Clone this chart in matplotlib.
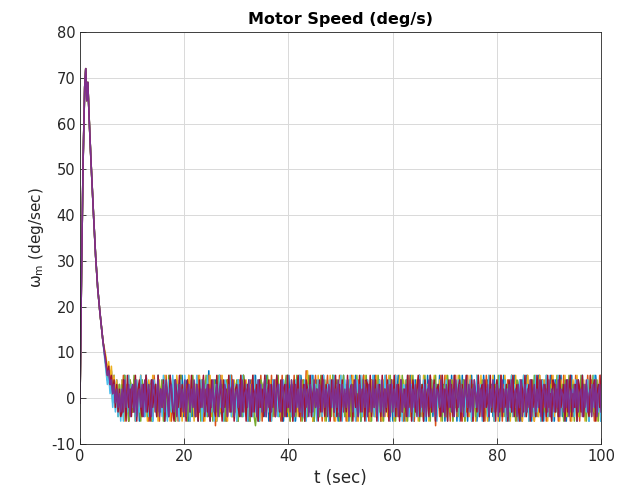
import numpy as np
import matplotlib
matplotlib.use("Agg")
import matplotlib.pyplot as plt

plt.rcParams['axes.unicode_minus'] = False

# shared start-up transient
t_rise = [0, 0.3, 0.6, 0.9, 1.1, 1.3, 1.5, 1.8, 2.1, 2.6, 3.0, 3.4, 3.8, 4.4]
speed_rise = [-1, 28, 52, 68, 72, 65, 69, 60, 52, 40, 31, 24, 19, 12.5]

# rest of each run, t = 5..100 s, about every 0.25 s (estimated from the band)
run_blue = [8, 5, 7, 3, 6, 1, 5, -1, 4, -2, 3, -4,
    4, -2, 5, -1, 2, -5, 3, 1, -3, 4, -4, 0, 3, -5, 1, 4, -2, -4, 5, 2,
    -3, 1, 4, -5, 2, 3, -4, 5, -1, -3, 4, 2, -5, 3, 0, -4, 5, -2, 1, 4,
    -5, 2, -1, 4, -3, 5, -4, -2, 3, 4, -5, 1, 2, -4, 3, -3, 2, -5, 4, -1,
    1, 4, -3, 2, -4, 6, -5, 3, 0, -2, 4, -5, 1, 5, -3, -4, 2, 1, -5, 4,
    2, -3, 5, -4, 0, 3, -5, 4, -1, 2, -4, 5, 3, -3, 1, -5, 4, 2, -4, 3,
    5, -2, -5, 4, 1, -3, 3, -4, 5, 2, -5, 3, -1, 4, -3, 0, 5, -4, 2, -2,
    4, -5, 3, 1, -4, 5, -2, 2, -3, 4, -5, 0, 3, -4, 5, 2, -3, -5, 4, 1,
    -2, 3, -4, 5, -5, 2, 4, -3, 1, 3, -4, 5, -2, -3, 4, -5, 2, 0, 5, -4,
    3, -1, -5, 4, 2, -3, 5, -4, 1, 3, -5, 4, -2, 2, -4, 5, -3, 0, 4, -5,
    2, 5, -3, -4, 3, 1, -5, 4, -2, 5, -4, 2, -3, 3, -5, 4, 1, -2, 5, -3,
    -4, 3, 2, -5, 4, -2, 1, 5, -4, 3, -3, 2, -5, 4, 0, -4, 5, -2, 3, -5,
    4, 1, -3, 5, -4, 2, -2, 3, -5, 5, -3, 1, 4, -4, 2, -5, 3, -2, 5, -4,
    1, 3, -5, 4, -2, 2, -4, 5, -3, 1, 4, -5, 3, 2, -4, 5, -2, -3, 4, -5,
    3, -2, 5, -4, 1, 2, -5, 4, -3, 3, -4, 5, 0, -2, 4, -5, 2, 3, -4, 5,
    -3, 1, 4, -5, 2, -2, 5, -4, 3, 1, -5, 4, -3, 2, 5, -4, 1, 3, -2, -5,
    4, 2, -4, 5, -3, 1, 3, -5, 4, -2, 2, -4, 5, -3, 1, 4, -5, 3, -2, 2,
    -4, 5, -2, 3, -5, 4, 1, -3, 2, 5, -4, 3, -2, -5, 4, 1, -3, 5, -4, 2,
    3, -5, 4, -2, 1, 5, -4, 2, -3, 3, -5, 4, 2, -2, -4, 5, 1, -3, 4, -5]
run_orange = [7, 4, 6, 2, 5, 0, 4, -2, 3, -3, 2, -4,
    -2, 5, -4, 1, 3, -5, 4, 2, -3, 4, -5, 3, -2, 1, 5, -4, 2, -3, 4, -2,
    -5, 3, 2, -4, 5, 1, -3, 4, -5, 2, 3, -2, -4, 5, -3, 1, 4, -5, 3, 2,
    -3, 4, -5, 1, 5, -2, 2, -4, 3, -3, 5, -5, 4, 1, -2, 3, -4, 5, -3, 2,
    4, -5, 1, 3, -2, 5, -4, 2, -3, 4, -6, 3, 1, -2, 5, -4, 3, 2, -5, 4,
    -2, 1, 5, -4, 3, -3, 2, -5, 4, 1, -3, 5, -2, -4, 3, 2, -5, 4, -3, 5,
    1, -4, 3, -2, 5, -5, 2, 4, -3, 1, 3, -5, 5, -2, -4, 4, 2, -3, 1, -5,
    5, -3, 2, -4, 4, 1, -5, 3, -2, 5, -4, 2, -3, 3, -5, 4, 1, -2, 6, -4,
    2, -3, 4, -5, 1, 5, -2, 3, -4, 2, -5, 4, -3, 1, 5, -4, 3, -2, 2, -5,
    4, 1, -3, 5, -4, 2, -2, 3, -5, 4, 2, -4, 5, -3, 1, 3, -5, 4, -2, 2,
    -4, 5, -3, 1, 4, -5, 3, 2, -2, -4, 5, 1, -3, 4, -5, 2, 3, -4, 5, -2,
    1, -5, 4, 2, -3, 5, -4, 3, -2, 1, 4, -5, 2, 3, -4, 5, -3, -2, 4, -5,
    3, 1, -4, 5, -2, 2, -5, 4, -3, 3, -4, 5, 1, -2, 4, -6, 2, 3, -4, 5,
    -3, -2, 5, -4, 2, 1, -5, 4, 3, -3, 5, -4, 2, -2, 3, -5, 4, 1, -3, 5,
    -4, 2, 3, -5, 4, -2, 1, 5, -4, 3, -3, 2, -5, 5, 1, -4, 3, -2, 4, -5,
    2, 4, -3, 1, 5, -5, 3, -2, -4, 4, 2, -3, 5, -4, 1, 3, -5, 2, 4, -2,
    -5, 3, 1, -3, 5, -4, 2, 4, -2, -5, 3, 1, -4, 5, -3, 2, -2, 4, -5, 3,
    1, -4, 5, -2, 2, -3, 4, -5, 3, 1, -2, 5, -4, 2, -3, 4, -5, 1, 3, -4,
    5, -2, 2, -5, 4, -3, 1, 3, -4, 5, -2, -3, 4, 2, -5, 3, 1, -4, 5, -3]
run_yellow = [9, 6, 8, 4, 7, 2, 5, 0, 4, -1, 3, -3,
    4, -2, -5, 3, 1, 5, -4, 2, -3, 3, -5, 4, 1, -2, 5, -4, 3, -3, 2, -5,
    4, 2, -4, 5, -3, 1, 3, -5, 4, -2, 2, -4, 5, -3, 1, 4, -5, 3, 2, -2,
    -4, 5, 1, -3, 4, -5, 2, 3, -2, -4, 5, -3, 1, 4, -5, 3, 2, -4, 5, 1,
    -2, 3, -5, 4, 2, -3, 5, -4, 1, 3, -2, -5, 4, 2, -3, 5, -4, 3, 1, -5,
    5, -3, 2, -4, 4, 1, -5, 3, -2, 5, -4, 2, -3, 4, -5, 1, 3, -2, 5, -4,
    2, -2, 4, -5, 3, 1, -3, 5, -4, 2, -2, 4, -5, 3, 1, -4, 5, -2, 3, -3,
    -5, 4, 2, -3, 5, -4, 1, 3, -5, 4, -2, 2, -4, 5, -3, 1, 4, -5, 2, 6,
    -3, 1, 4, -5, 2, 3, -4, 5, -2, 1, -3, 4, -5, 3, 2, -4, 5, -2, 1, 3,
    -5, 4, -3, 2, 5, -4, 1, -2, 3, -5, 4, 2, -3, 5, -4, 1, 3, -5, 4, -2,
    2, -4, 5, -3, 1, 3, -5, 4, 2, -2, -4, 5, -3, 3, 1, -5, 4, -2, 2, -4,
    5, -3, 1, 4, -5, 2, 3, -4, 5, -2, -3, 4, 1, -5, 3, 2, -4, 5, -2, 1,
    -3, 4, -5, 3, 2, -4, 5, 1, -2, 3, -5, 4, -3, 2, 5, -4, 1, -2, 4, -5,
    3, 1, -4, 5, -2, 2, -3, 4, -5, 3, 1, -2, 5, -4, 2, -3, 4, -5, 3, 2,
    -4, 5, -2, 1, 3, -5, 4, 2, -3, 5, -4, 1, 3, -2, -5, 4, 2, -3, 5, -4,
    1, 3, -5, 4, -2, 2, -4, 5, -3, 1, 4, -5, 2, 3, -4, 5, -2, -3, 4, 1,
    -5, 3, 2, -4, 5, -2, 1, 4, -3, -5, 3, 2, -4, 5, 1, -3, 4, -2, 2, -5,
    4, -3, 1, 5, -4, 2, -2, 3, -5, 4, 1, -3, 5, -4, 2, 3, -2, -5, 4, 1,
    -2, 5, -4, 3, -3, 1, 4, -5, 2, 3, -4, 5, -2, 1, -3, 4, -5, 2, 3, -4]
run_green = [7, 4, 6, 2, 4, -1, 3, -2, 2, -4, 3, -4,
    3, -4, 5, -2, 1, -5, 4, 2, -3, 5, -4, 1, 3, -2, -5, 4, 2, -3, 5, -4,
    1, 3, -5, 4, -2, 2, -4, 5, -3, 1, 4, -5, 3, 2, -4, 5, -2, -3, 4, 1,
    -5, 3, 2, -4, 5, -2, 1, 4, -3, -5, 3, 2, -4, 5, 1, -3, 4, -2, 2, -5,
    4, -3, 1, 5, -4, 2, -2, 3, -5, 4, 1, -3, 5, -4, 2, 3, -2, -5, 4, 1,
    -2, 5, -4, 3, -3, 1, 4, -5, 2, 3, -4, 5, -2, 1, -3, 4, -5, 2, 3, -4,
    -6, -2, 1, -5, 4, 3, -3, 2, -4, 5, 1, -2, 3, -4, 4, -3, 2, 5, -4, 1,
    3, -4, 2, 5, -3, 1, -5, 4, -2, 3, -4, 5, 2, -3, 1, -5, 4, 3, -2, -4,
    5, 1, -3, 4, -5, 2, 3, -2, -4, 5, -3, 1, 4, -5, 2, -2, 3, -4, 5, 2,
    -3, 4, 1, -5, 3, -2, 5, -4, 2, 1, -3, 4, -5, 3, 2, -4, 5, -2, 1, -5,
    4, 2, -3, 5, -4, 1, 3, -5, 4, -2, 2, -4, 5, -3, 3, 1, -5, 4, -2, 2,
    -4, 5, -3, 1, 4, -5, 2, 3, -2, -4, 5, 1, -3, 4, -5, 3, 2, -2, 5, -4,
    1, -3, 4, -5, 3, 2, -4, 5, -2, 1, 3, -5, 4, -3, 2, 5, -4, 1, -2, 4,
    -5, 2, 3, -4, 5, 1, -3, 4, -5, 2, -2, 3, -4, 5, 1, -3, 4, -5, 3, 2,
    -2, 4, -5, 3, 1, -4, 5, -3, 2, -2, 4, -5, 3, 1, -4, 5, 2, -3, 4, -5,
    3, -2, 5, -4, 2, 1, -3, 4, -5, 3, 2, -4, 5, -2, 1, -5, 4, 3, -3, 2,
    -4, 5, 1, -2, 3, -5, 4, 2, -3, 5, -4, 1, 3, -2, -5, 4, 2, -3, 5, -4,
    1, 3, -5, 4, 2, -3, 5, -4, 1, -2, 3, -5, 4, 2, -4, 5, -3, 1, 3, -5,
    4, -2, 2, -4, 5, -3, 1, 3, -5, 4, -2, 2, -4, 5, -3, 1, 4, -5, 2, 3]
run_cyan = [6, 3, 5, 1, 3, -2, 2, -3, 1, -4, 2, -5,
    2, -5, 4, 1, -3, 5, -4, 3, -2, 2, -5, 4, 1, -3, 5, -2, 3, -4, 5, 1,
    -4, 2, 3, -5, 4, -2, 1, 5, -3, 2, -4, 5, 3, -2, -5, 4, 1, -3, 5, -4,
    2, 3, -2, -5, 4, 1, -3, 5, -4, 2, 3, -5, 4, -2, 1, -4, 5, -3, 2, 4,
    -5, 1, 3, -4, 5, -2, 2, -3, 4, -5, 3, 1, -4, 5, -2, 2, -5, 4, 3, -3,
    1, 5, -4, 2, -2, 3, -5, 4, 1, -3, 5, -4, 2, 3, -5, 4, -2, 1, -4, 5,
    -3, 2, 4, -5, 3, 1, -2, 5, -4, 3, -3, 2, -5, 4, 1, -2, 5, -4, 3, 2,
    -5, 4, -3, 1, 5, -2, 2, -4, 3, -5, 4, 1, -2, 5, -3, 2, -4, 4, -5, 3,
    1, -3, 5, -4, 2, 3, -5, 4, -2, 1, -4, 5, -3, 2, 3, -5, 4, 1, -2, 5,
    -4, 3, -3, 2, 5, -5, 1, 4, -2, 3, -4, 5, 2, -3, 1, -5, 4, 2, -3, 5,
    -4, 1, 3, -5, 4, -2, 2, -3, 5, -4, 1, 3, -5, 4, -2, 2, -4, 5, -3, 1,
    4, -5, 2, 3, -4, 5, -2, 1, -3, 4, -5, 3, 2, -2, 5, -4, 1, 3, -5, 4,
    -2, 2, -4, 5, -3, 1, 4, -5, 3, 2, -4, 5, -2, -3, 4, 1, -5, 3, 2, -4,
    5, -3, 1, 4, -5, 2, -2, 3, -4, 5, 1, -3, 4, -5, 2, 3, -2, -4, 5, 1,
    -3, 4, -5, 2, 3, -2, 5, -4, 1, 3, -5, 4, -2, 2, -4, 5, -3, 1, 4, -5,
    2, 1, -4, 5, -2, 3, -3, 4, -5, 2, 1, -3, 5, -4, 3, -2, 2, -5, 4, 1,
    -3, 5, -4, 2, 3, -5, 4, -2, 1, -4, 5, -3, 2, 3, -5, 4, 1, -2, 5, -4,
    3, -2, 2, -5, 4, 1, -3, 5, -4, 2, -2, 3, -5, 4, 1, -3, 5, -2, 2, -4,
    4, -5, 3, 1, -2, 5, -4, 2, -3, 4, -5, 1, 3, -2, 5, -4, 2, -3, 3, -5]
run_red = [8, 5, 7, 3, 5, 1, 4, -2, 3, -3, 2, -4,
    -3, 4, 1, -5, 5, -2, 2, -4, 3, -3, 5, -5, 2, 4, -2, -4, 3, 1, 5, -3,
    2, -5, 4, -2, 1, 3, -4, 5, -3, 2, -2, 4, -5, 3, 1, -4, 5, 2, -3, -5,
    4, 1, -2, 5, -4, 3, -3, 2, -5, 4, 1, -3, 5, -2, 2, -4, 3, -5, 4, -2,
    1, 5, -4, 2, -3, 3, -5, 4, 2, -2, -4, 5, -3, 1, 3, -5, 4, -2, 2, -4,
    5, -3, 1, 4, -5, 2, 3, -2, -4, 5, -3, 1, 4, -5, 3, 2, -2, -4, 5, -3,
    1, 3, -5, 4, -2, 2, -4, 5, -3, 1, 4, -5, 3, -2, 2, -4, 5, 1, -3, 4,
    -5, 2, 3, -4, 5, -2, 1, 3, -5, 4, -3, 2, 5, -4, 1, -2, 3, -5, 4, 2,
    -3, 5, -4, 1, 3, -2, 2, -5, 4, -3, 5, 1, -4, 3, -2, 2, -5, 4, 1, -3,
    5, -4, 2, 3, -5, 4, -2, 1, -3, 5, -4, 2, 3, -5, 4, -2, 1, -4, 5, -3,
    2, 1, -5, 4, 3, -3, 5, -4, 2, -2, 4, -5, 1, 3, -4, 5, -2, 2, -3, 4,
    -5, 3, 1, -2, 5, -4, 2, 3, -5, 4, -3, 1, 2, -4, 5, -2, 3, -5, 4, 1,
    -3, 2, 5, -4, 1, 3, -5, 4, -2, 2, -4, 5, -3, 1, 4, -5, 2, 3, -2, -4,
    5, -3, 2, 1, -5, 4, -2, 3, -4, 5, 1, -3, 2, 4, -5, 3, -2, 1, 5, -4,
    2, -2, 4, -5, 3, 1, -3, 5, -4, 2, 3, -5, 4, -2, 1, -4, 5, -3, 2, 3,
    -5, 4, 1, -3, 5, -4, 2, -2, 3, -5, 4, 2, -3, 5, -4, 1, 3, -2, -5, 4,
    2, -3, 5, -4, 1, 3, -5, 4, -2, 2, -4, 5, 1, -3, 4, -5, 2, 3, -4, 5,
    -2, 1, -5, 4, 3, -3, 2, -4, 5, -2, 1, 3, -5, 4, -3, 2, 5, -4, 1, -2,
    3, -5, 4, 2, -3, 5, -4, 1, 3, -2, -4, 5, -3, 2, 4, -5, 1, 3, -2, 5]
run_purple = [7, 5, 6, 3, 4, 1, 3, -1, 2, -2, 1, -3,
    2, -3, 4, -2, 1, 3, -4, 2, 3, -3, 4, -4, 1, 2, -2, 3, -4, 4, -3, 1,
    3, -2, -4, 4, 2, -3, 1, 4, -4, 2, -2, 3, -3, 4, 1, -4, 2, 3, -2, -3,
    4, -4, 1, 3, -2, 2, -3, 4, -4, 1, 3, -3, 2, -2, 4, -4, 3, 1, -3, 2,
    -2, 4, -3, 1, 3, -4, 2, -2, 4, -3, 1, 3, -4, 2, 4, -2, -3, 3, 1, -4,
    3, 2, -3, 4, -4, 1, 2, -2, 3, -4, 4, -3, 1, 2, -2, 4, -4, 3, -3, 1,
    2, -4, 4, -2, 3, -3, 1, 4, -4, 2, -2, 3, -3, 1, 4, -4, 2, 3, -2, -3,
    4, 1, -4, 3, -2, 2, -3, 4, 1, -4, 3, -2, 2, -3, 4, -4, 1, 3, -2, 2,
    -4, 3, 1, -3, 4, -2, 2, -4, 3, 1, -3, 4, -2, 2, -4, 3, 1, -2, 4, -3,
    2, -2, 4, -4, 1, 3, -3, 2, -2, 4, -4, 1, 3, -3, 2, 4, -2, -4, 3, 1,
    -3, 4, -2, 2, -4, 3, 1, -3, 4, -2, 2, -4, 3, 1, -3, 4, -4, 2, -2, 3,
    1, -4, 4, -3, 2, -2, 3, -4, 1, 4, -3, 2, -2, 3, -4, 1, 4, -3, 2, -2,
    3, -4, 1, 4, -2, 2, -3, 3, -4, 1, 4, -2, 2, -3, 3, -4, 2, 1, -2, 4,
    -3, 2, -4, 3, 1, -2, 4, -3, 2, -4, 4, 1, -2, 3, -3, 2, -4, 4, 1, -2,
    3, -3, 2, -4, 4, 1, -2, 3, -3, 2, -4, 4, -2, 1, 3, -4, 2, -2, 4, -3,
    1, 3, -4, 2, -2, 4, -3, 1, 2, -4, 3, -2, 4, -3, 1, 2, -4, 3, -2, 4,
    -4, 1, 3, -3, 2, -2, 4, -4, 1, 3, -3, 2, -2, 4, -4, 1, 3, -2, 2, -3,
    4, -4, 2, 1, -3, 3, -2, 4, -4, 2, 1, -3, 3, -2, 4, -4, 1, 2, -3, 3,
    -2, 4, -3, 1, 2, -4, 3, -2, 4, -3, 1, 2, -4, 3, -2, 4, -4, 1, 3, -3]

runs = [run_blue, run_orange, run_yellow, run_green, run_cyan, run_red, run_purple]
colors = ['#0072BD', '#D95319', '#EDB120', '#77AC30', '#4DBEEE', '#A2142F', '#7E2F8E']

fig = plt.figure(figsize=(6.26, 4.94), dpi=100)
ax = fig.add_axes([0.1278, 0.1012, 0.8323, 0.834])

for run, c in zip(runs, colors):
    t_tail = np.linspace(5, 100, len(run))
    t = np.concatenate([t_rise, t_tail])
    w = np.concatenate([speed_rise, run])
    ax.plot(t, w, color=c, lw=1.1)

ax.set_xlim(0, 100)
ax.set_ylim(-10, 80)
ax.set_xticks([0, 20, 40, 60, 80, 100])
ax.set_yticks(np.arange(-10, 81, 10))
ax.grid(True, color='#d9d9d9', lw=0.7)
ax.set_axisbelow(True)
ax.tick_params(direction='in', length=4, colors='#262626', labelsize=10.5, width=0.6)
for s in ax.spines.values():
    s.set_color('#262626')
    s.set_linewidth(0.6)
ax.set_title('Motor Speed (deg/s)', fontsize=11.5, fontweight='bold', pad=6)
ax.set_xlabel('t (sec)', fontsize=12, color='#262626')
ax.set_ylabel(r'$\mathregular{\omega_m}$ (deg/sec)', fontsize=11, color='#262626')

fig.savefig('out.png', dpi=100)
